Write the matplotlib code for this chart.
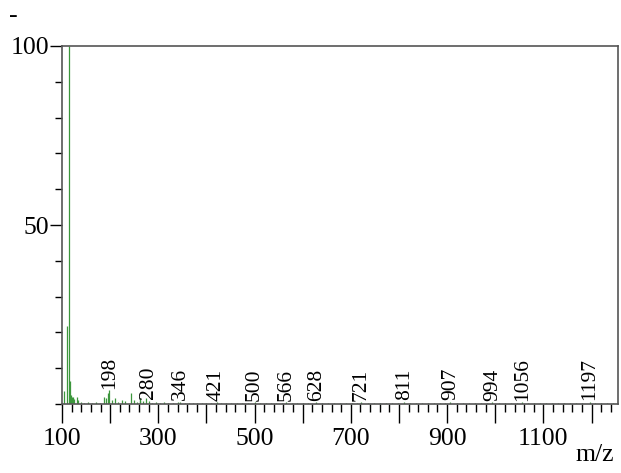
import matplotlib
matplotlib.use("Agg")
import matplotlib.pyplot as plt
from matplotlib.ticker import MultipleLocator, FuncFormatter

plt.rcParams['font.family'] = ['Liberation Serif', 'DejaVu Serif']

# peaks (m/z, relative intensity)
mz = [104, 110.5, 114.6, 116.6, 118.7, 121.6, 123.7, 125.8, 132, 134,
      140, 146, 155, 162, 170, 178, 187, 191, 196.4, 198.5,
      203, 210, 217, 224, 231, 243, 250.5, 256, 261, 263,
      268, 275.5, 280, 287, 295, 303, 312, 320, 331, 340,
      346, 355, 364, 372, 381, 390, 399, 410, 421, 430,
      441, 452, 463, 474, 486, 500, 511, 523, 534, 545,
      556, 566, 577, 589, 600, 612, 628, 640, 652, 665,
      678, 690, 702, 713, 721, 735, 748, 760, 773, 786,
      798, 811, 823, 836, 848, 860, 873, 885, 896, 907,
      920, 932, 945, 958, 970, 983, 994, 1008, 1020, 1032,
      1045, 1056, 1068, 1080, 1093, 1105, 1118, 1130, 1143, 1155,
      1168, 1180, 1197, 1208, 1220, 1232, 1244]
inten = [3.7, 21.8, 100, 6.5, 2.4, 2.0, 1.9, 1.3, 2.0, 1.2,
         0.5, 0.4, 0.6, 0.4, 0.5, 0.4, 2.0, 1.7, 3.0, 3.8,
         1.0, 1.7, 0.6, 1.0, 0.8, 3.0, 1.0, 0.6, 1.2, 1.6,
         0.7, 1.8, 0.9, 0.4, 0.5, 0.3, 0.5, 0.4, 0.3, 0.5,
         0.6, 0.3, 0.4, 0.3, 0.4, 0.3, 0.4, 0.3, 0.5, 0.3,
         0.4, 0.3, 0.3, 0.4, 0.3, 0.5, 0.3, 0.4, 0.3, 0.3,
         0.4, 0.5, 0.3, 0.3, 0.4, 0.3, 0.5, 0.3, 0.3, 0.4,
         0.3, 0.3, 0.4, 0.3, 0.5, 0.3, 0.3, 0.4, 0.3, 0.3,
         0.3, 0.6, 0.3, 0.4, 0.3, 0.3, 0.3, 0.4, 0.3, 0.6,
         0.3, 0.3, 0.4, 0.3, 0.3, 0.3, 0.5, 0.3, 0.3, 0.4,
         0.3, 0.5, 0.3, 0.3, 0.4, 0.3, 0.3, 0.3, 0.4, 0.3,
         0.3, 0.3, 0.6, 0.3, 0.4, 0.3, 0.3]

labels = [198, 280, 346, 421, 500, 566, 628, 721, 811, 907, 994, 1056, 1197]
label_h = [3.8, 0.9, 0.6, 0.5, 0.5, 0.5, 0.5, 0.5, 0.6, 0.6, 0.5, 0.5, 0.6]

fig = plt.figure(figsize=(6.21, 4.73), dpi=100)
ax = fig.add_axes([62/621, 1-404/473, 556/621, 358/473])

ax.vlines(mz, 0, inten, color='#3c963c', linewidth=0.9)

for m, h in zip(labels, label_h):
    ax.annotate(str(m), (m, h), xytext=(0, 1), textcoords='offset points',
                rotation=90, ha='center', va='bottom', fontsize=15.5)

ax.set_xlim(100, 1255)
ax.set_ylim(0, 100)

ax.xaxis.set_major_locator(MultipleLocator(100))
ax.xaxis.set_minor_locator(MultipleLocator(20))
ax.xaxis.set_major_formatter(FuncFormatter(lambda v, p: '%d' % v if int(round(v - 100)) % 200 == 0 else ''))
ax.set_yticks([50, 100])
ax.yaxis.set_minor_locator(MultipleLocator(10))

ax.tick_params(axis='x', which='major', length=14, width=1, labelsize=18.5, pad=3)
ax.tick_params(axis='x', which='minor', length=6, width=1)
ax.tick_params(axis='y', which='major', length=9, width=1, labelsize=18.5, pad=0)
ax.tick_params(axis='y', which='minor', length=5, width=1)

for s in ax.spines.values():
    s.set_color('#555555')
    s.set_linewidth(1.2)

fig.text(595/621, 1-455/473, 'm/z', ha='center', va='center', fontsize=18.5)
fig.text(13/621, 1-16/473, '-', ha='center', va='center', fontsize=18.5)

plt.savefig('out.png')
